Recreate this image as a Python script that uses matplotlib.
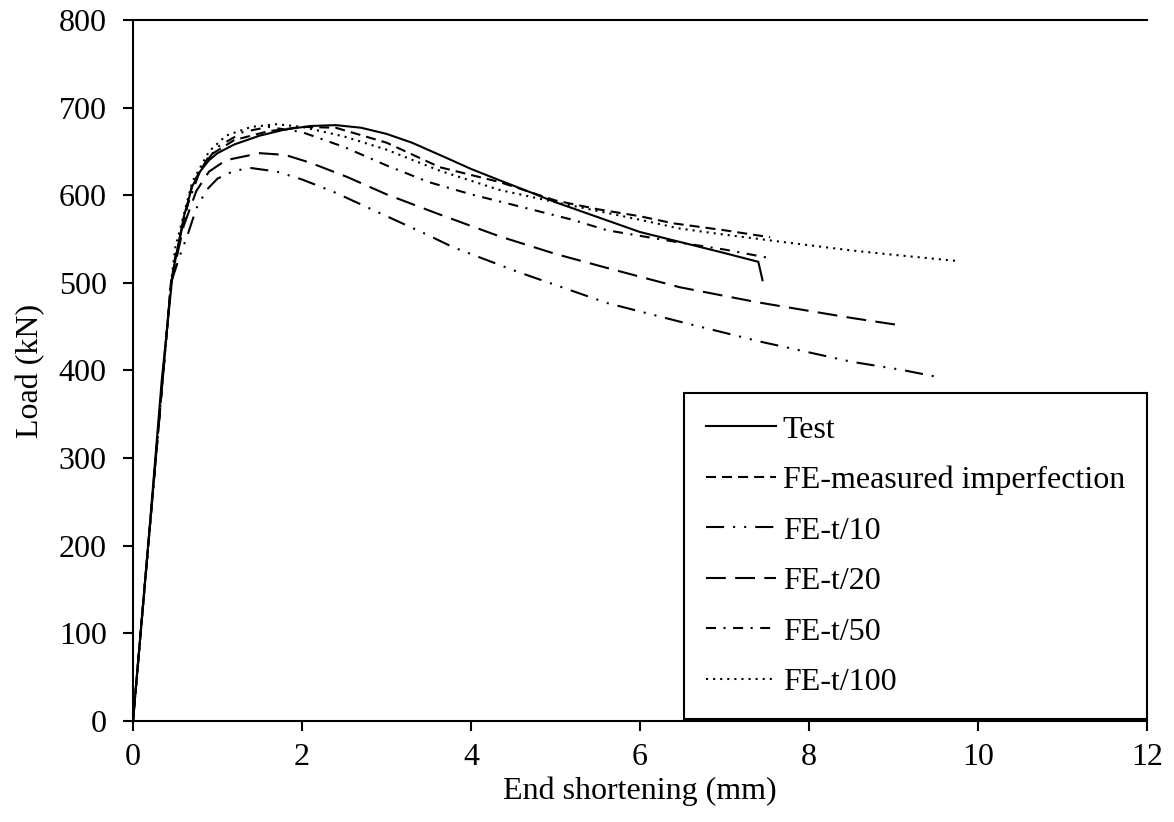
import matplotlib
matplotlib.use("Agg")
import matplotlib.pyplot as plt

plt.rcParams['font.family'] = ['Liberation Serif', 'DejaVu Serif']
plt.rcParams['font.size'] = 23

# load-end shortening curves (mm, kN)
test_x = [0, 0.2, 0.34, 0.47, 0.55, 0.6, 0.7, 0.8, 0.9, 1.0, 1.2, 1.5, 1.8, 2.1, 2.4, 2.7, 3.0, 3.3, 3.7, 4.0,
          4.34, 4.66, 5.0, 5.5, 6.0, 6.5, 7.0, 7.4, 7.45]
test_y = [0, 225, 389, 511, 550, 575, 610, 628, 640, 648, 658, 668, 675, 679, 680, 677, 670, 660, 643, 630,
          617, 605, 592, 575, 558, 546, 534, 524, 503]

meas_x = [0, 0.45, 0.55, 0.7, 0.9, 1.2, 1.6, 2.0, 2.4, 3.0, 3.63, 4.34, 5.0, 5.5, 6.0, 6.39, 7.0, 7.54]
meas_y = [0, 500, 550, 612, 645, 663, 673, 678, 677, 660, 632, 615, 594, 584, 576, 568, 560, 552]

t10_x = [0, 0.45, 0.55, 0.64, 0.75, 0.87, 1.0, 1.2, 1.4, 1.7, 2.0, 2.37, 2.89, 3.48, 3.78, 4.54, 5.61, 6.5,
         7.42, 8.5, 9.08, 9.5]
t10_y = [0, 500, 530, 553, 585, 606, 619, 628, 631, 627, 618, 604, 581, 555, 541, 513, 477, 455,
         433, 410, 401, 393]

t20_x = [0, 0.45, 0.6, 0.75, 0.9, 1.1, 1.5, 1.8, 2.1, 2.53, 3.0, 3.63, 4.34, 5.0, 5.61, 6.47, 7.38, 8.0,
         8.5, 9.05]
t20_y = [0, 500, 565, 605, 627, 640, 648, 646, 637, 621, 601, 578, 553, 533, 517, 495, 478, 468,
         460, 452]

t50_x = [0, 0.45, 0.5, 0.65, 0.8, 1.0, 1.3, 1.6, 2.0, 2.5, 3.0, 3.5, 4.0, 4.5, 5.2, 5.61, 6.47, 7.0, 7.55]
t50_y = [0, 500, 530, 590, 630, 655, 672, 678, 672, 655, 634, 615, 601, 589, 572, 560, 546, 538, 528]

t100_x = [0, 0.45, 0.5, 0.7, 0.9, 1.1, 1.4, 1.7, 2.0, 2.5, 3.0, 3.63, 4.34, 5.0, 5.5, 6.0, 6.47, 7.0, 7.66,
          8.5, 9.0, 9.75]
t100_y = [0, 500, 540, 615, 650, 668, 678, 681, 678, 667, 652, 628, 606, 592, 582, 572, 562, 555, 547,
          537, 532, 525]

labels = ["Test", "FE-measured imperfection", "FE-t/10", "FE-t/20", "FE-t/50", "FE-t/100"]

fig = plt.figure(figsize=(11.74, 8.22), dpi=100)
ax = fig.add_axes([0.1133, 0.1229, 0.8637, 0.8528])

lw = 1.5
ax.plot(test_x, test_y, color='black', lw=lw, linestyle='-', label=labels[0])
ax.plot(meas_x, meas_y, color='black', lw=lw, linestyle=(0, (4.8, 2.9)), label=labels[1])
ax.plot(t10_x, t10_y, color='black', lw=lw, linestyle=(0, (8.7, 4.3, 1, 4.3, 1, 4.3)), label=labels[2])
ax.plot(t20_x, t20_y, color='black', lw=lw, linestyle=(0, (9.5, 4.5)), label=labels[3])
ax.plot(t50_x, t50_y, color='black', lw=lw, linestyle=(0, (4.8, 3.6, 1, 3.6)), label=labels[4])
ax.plot(t100_x, t100_y, color='black', lw=lw, linestyle=(0, (1, 2.4)), label=labels[5])

ax.set_xlim(0, 12)
ax.set_ylim(0, 800)
ax.set_xticks(range(0, 13, 2))
ax.set_yticks(range(0, 801, 100))
ax.tick_params(direction='out', length=7, width=1.5)
ax.tick_params(axis='x', pad=9)
ax.tick_params(axis='y', pad=12)
ax.spines['right'].set_visible(False)
for s in ['left', 'bottom', 'top']:
    ax.spines[s].set_linewidth(1.5)

ax.set_xlabel("End shortening (mm)", labelpad=3)
ax.set_ylabel("Load (kN)", labelpad=10)

leg = ax.legend(loc='upper left', bbox_to_anchor=(0.543, 0, 0.457, 0.468), mode='expand',
                fancybox=False, framealpha=1, edgecolor='black', borderaxespad=0,
                handlelength=2.2, handletextpad=0.2, labelspacing=0.66, borderpad=0.7)
leg.get_frame().set_linewidth(1.5)

plt.savefig("out.png", dpi=100)
